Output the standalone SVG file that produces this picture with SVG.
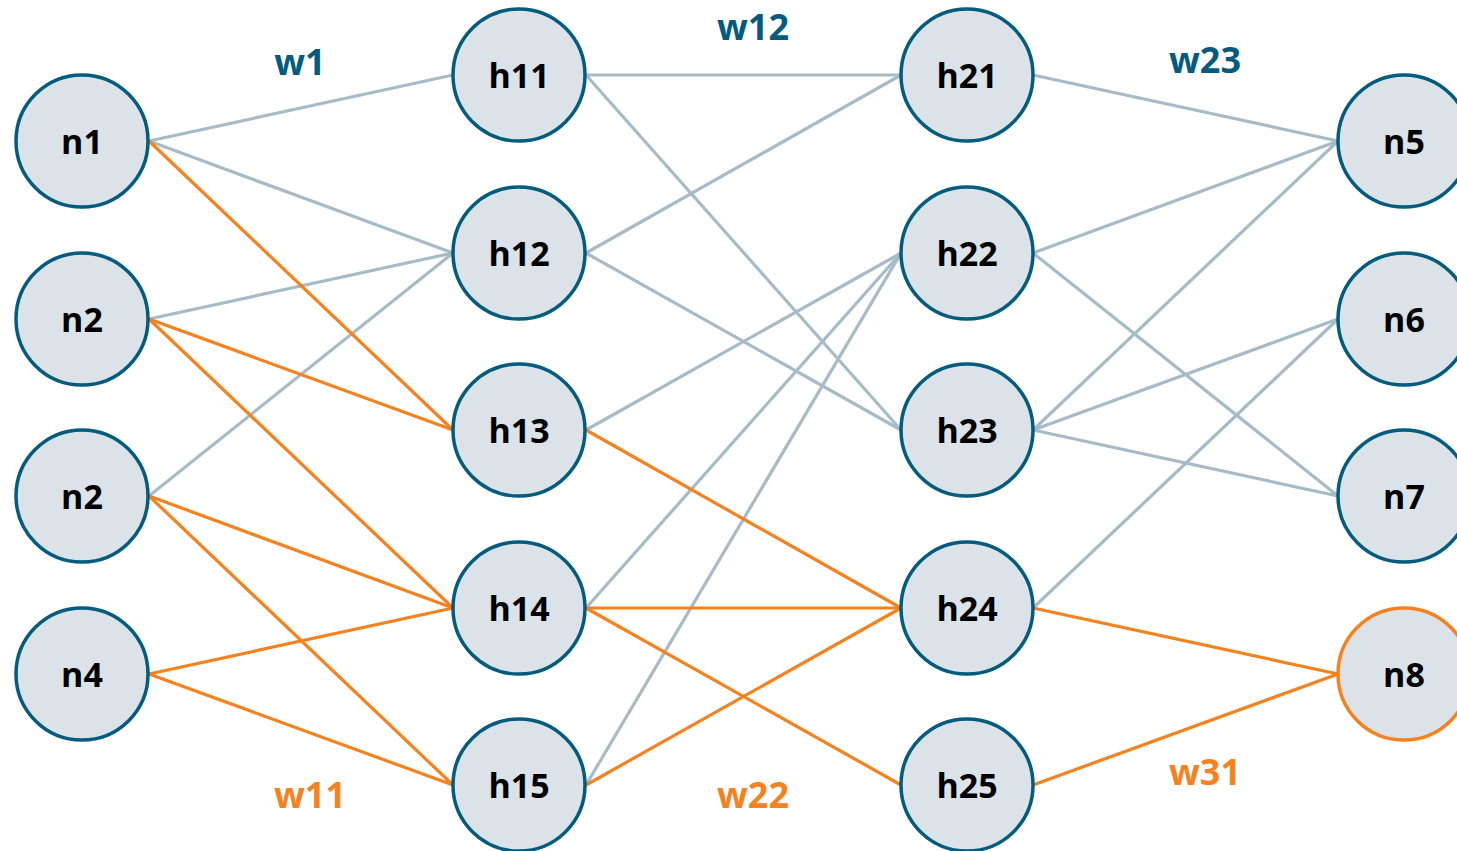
<svg xmlns="http://www.w3.org/2000/svg" width="1457" height="851" viewBox="0 0 1457 851">
<style>
.n circle{fill:#dbe3e9;stroke:#035b7d;stroke-width:3.5}
.n.o circle{stroke:#f5821f}
.n text{font-family:"Open Sans","Noto Sans",sans-serif;font-weight:bold;font-size:34px;fill:#000;text-anchor:middle;dominant-baseline:central}
.g{stroke:#a7bbc7;stroke-width:3.2;fill:none}
.r{stroke:#f5821f;stroke-width:3.2;fill:none}
.lb{font-family:"Open Sans","Noto Sans",sans-serif;font-weight:bold;font-size:36px;text-anchor:middle}
.lb.b{fill:#035b7d}
.lb.o{fill:#f5821f}
</style>
<rect width="1457" height="851" fill="#fff"/>
<g id="connectors">
<line class="g" x1="149" y1="141" x2="453" y2="75"/>
<line class="g" x1="149" y1="141" x2="453" y2="253"/>
<line class="g" x1="149" y1="319" x2="453" y2="253"/>
<line class="g" x1="149" y1="496" x2="453" y2="253"/>
<line class="r" x1="149" y1="141" x2="453" y2="430"/>
<line class="r" x1="149" y1="319" x2="453" y2="430"/>
<line class="r" x1="149" y1="319" x2="453" y2="608"/>
<line class="r" x1="149" y1="496" x2="453" y2="608"/>
<line class="r" x1="149" y1="496" x2="453" y2="785"/>
<line class="r" x1="149" y1="674" x2="453" y2="608"/>
<line class="r" x1="149" y1="674" x2="453" y2="785"/>
<line class="g" x1="586" y1="75" x2="901" y2="75"/>
<line class="g" x1="586" y1="75" x2="901" y2="430"/>
<line class="g" x1="586" y1="253" x2="901" y2="75"/>
<line class="g" x1="586" y1="253" x2="901" y2="430"/>
<line class="g" x1="586" y1="430" x2="901" y2="253"/>
<line class="g" x1="586" y1="608" x2="901" y2="253"/>
<line class="g" x1="586" y1="785" x2="901" y2="253"/>
<line class="r" x1="586" y1="430" x2="901" y2="608"/>
<line class="r" x1="586" y1="608" x2="901" y2="608"/>
<line class="r" x1="586" y1="608" x2="901" y2="785"/>
<line class="r" x1="586" y1="785" x2="901" y2="608"/>
<line class="g" x1="1033" y1="75" x2="1338" y2="141"/>
<line class="g" x1="1033" y1="253" x2="1338" y2="141"/>
<line class="g" x1="1033" y1="253" x2="1338" y2="496"/>
<line class="g" x1="1033" y1="430" x2="1338" y2="141"/>
<line class="g" x1="1033" y1="430" x2="1338" y2="319"/>
<line class="g" x1="1033" y1="430" x2="1338" y2="496"/>
<line class="g" x1="1033" y1="608" x2="1338" y2="319"/>
<line class="r" x1="1033" y1="608" x2="1338" y2="674"/>
<line class="r" x1="1033" y1="785" x2="1338" y2="674"/>
</g>
<g id="labels">
<text class="lb b" x="300" y="75">w1</text>
<text class="lb b" x="753" y="40">w12</text>
<text class="lb b" x="1205" y="73">w23</text>
<text class="lb o" x="310" y="808">w11</text>
<text class="lb o" x="753" y="808">w22</text>
<text class="lb o" x="1205" y="785">w31</text>
</g>
<g id="n1" class="n"><circle cx="82" cy="141" r="66"/><text x="82" y="141">n1</text></g>
<g id="n2a" class="n"><circle cx="82" cy="319" r="66"/><text x="82" y="319">n2</text></g>
<g id="n2b" class="n"><circle cx="82" cy="496" r="66"/><text x="82" y="496">n2</text></g>
<g id="n4" class="n"><circle cx="82" cy="674" r="66"/><text x="82" y="674">n4</text></g>
<g id="h11" class="n"><circle cx="519" cy="75" r="66"/><text x="519" y="75">h11</text></g>
<g id="h12" class="n"><circle cx="519" cy="253" r="66"/><text x="519" y="253">h12</text></g>
<g id="h13" class="n"><circle cx="519" cy="430" r="66"/><text x="519" y="430">h13</text></g>
<g id="h14" class="n"><circle cx="519" cy="608" r="66"/><text x="519" y="608">h14</text></g>
<g id="h15" class="n"><circle cx="519" cy="785" r="66"/><text x="519" y="785">h15</text></g>
<g id="h21" class="n"><circle cx="967" cy="75" r="66"/><text x="967" y="75">h21</text></g>
<g id="h22" class="n"><circle cx="967" cy="253" r="66"/><text x="967" y="253">h22</text></g>
<g id="h23" class="n"><circle cx="967" cy="430" r="66"/><text x="967" y="430">h23</text></g>
<g id="h24" class="n"><circle cx="967" cy="608" r="66"/><text x="967" y="608">h24</text></g>
<g id="h25" class="n"><circle cx="967" cy="785" r="66"/><text x="967" y="785">h25</text></g>
<g id="n5" class="n"><circle cx="1404" cy="141" r="66"/><text x="1404" y="141">n5</text></g>
<g id="n6" class="n"><circle cx="1404" cy="319" r="66"/><text x="1404" y="319">n6</text></g>
<g id="n7" class="n"><circle cx="1404" cy="496" r="66"/><text x="1404" y="496">n7</text></g>
<g id="n8" class="n o"><circle cx="1404" cy="674" r="66"/><text x="1404" y="674">n8</text></g>
</svg>
